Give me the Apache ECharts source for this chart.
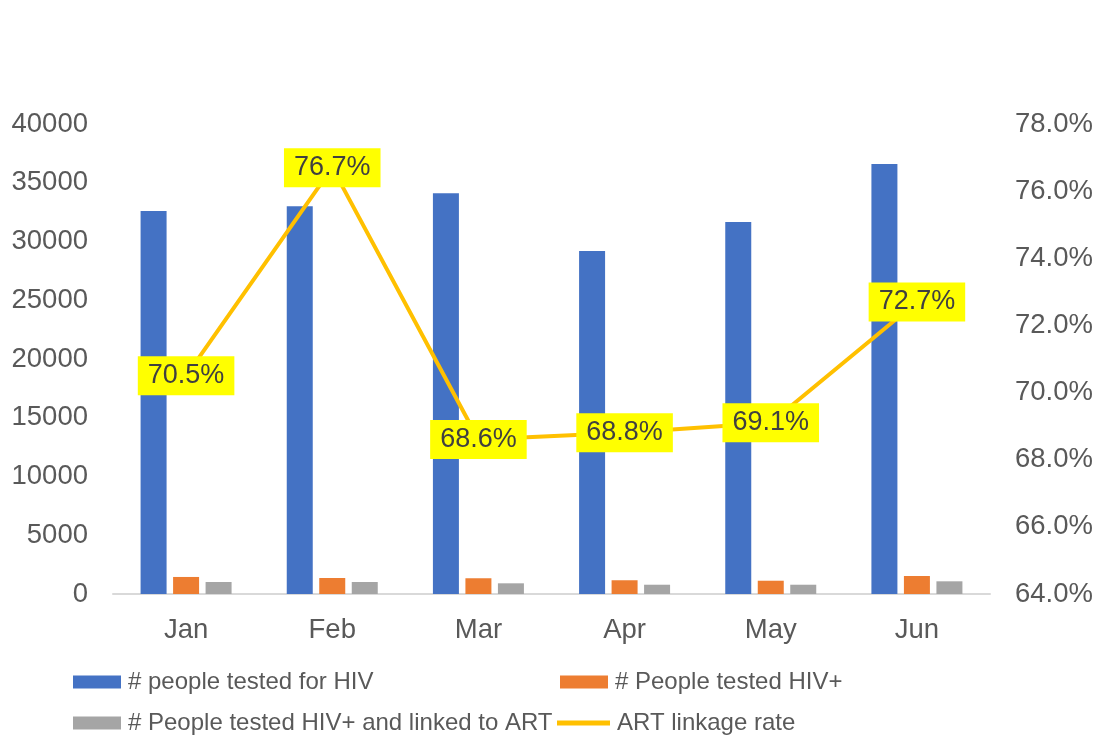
<!DOCTYPE html>
<html>
<head>
<meta charset="utf-8">
<script src="https://cdn.jsdelivr.net/npm/echarts@6/dist/echarts.min.js"></script>
<style>
  html, body { margin: 0; padding: 0; background: #fff; }
  #chart { width: 1104px; height: 738px; }
</style>
</head>
<body>
<div id="chart"></div>
<script>
// data
const months = ['Jan', 'Feb', 'Mar', 'Apr', 'May', 'Jun']
const testedHIV = [32600, 33000, 34100, 29200, 31650, 36600]
const testedPositive = [1450, 1360, 1340, 1170, 1130, 1530]
const linkedART = [1020, 1020, 910, 790, 790, 1080]
const linkageRate = [70.5, 76.7, 68.6, 68.8, 69.1, 72.7]

const names = [
  '# people tested for HIV',
  '# People tested HIV+',
  '# People tested HIV+ and linked to ART',
  'ART linkage rate',
]

const font = 'Liberation Sans, Arial, sans-serif'
const axisText = { color: '#595959', fontSize: 27.5, fontFamily: font }

// one legend per item so each sits where it does in the reference
function legendAt(name, left, top, line) {
  return {
    data: [{ name: name, icon: 'rect' }],
    left: left,
    top: top,
    padding: 0,
    itemWidth: line ? 53 : 48,
    itemHeight: line ? 5 : 13,
    itemGap: 0,
    selectedMode: false,
    textStyle: { color: '#595959', fontSize: 24, fontFamily: font, padding: [0, 0, 0, 2] },
  }
}

const chart = echarts.init(document.getElementById('chart'))
chart.setOption({
  animation: false,
  textStyle: { fontFamily: font },
  grid: { left: 113, right: 114, top: 124, bottom: 144 },
  legend: [
    legendAt(names[0], 73, 670, false),
    legendAt(names[1], 560, 670, false),
    legendAt(names[2], 73, 711, false),
    legendAt(names[3], 557, 711, true),
  ],
  xAxis: {
    type: 'category',
    data: months,
    axisTick: { show: false },
    axisLine: { lineStyle: { color: '#d9d9d9', width: 2 } },
    axisLabel: Object.assign({ margin: 22 }, axisText),
  },
  yAxis: [
    {
      type: 'value',
      min: 0,
      max: 40000,
      interval: 5000,
      splitLine: { show: false },
      axisLabel: Object.assign({ margin: 25, formatter: v => String(v) }, axisText),
    },
    {
      type: 'value',
      min: 64,
      max: 78,
      interval: 2,
      splitLine: { show: false },
      axisLabel: Object.assign({ margin: 25, formatter: v => v.toFixed(1) + '%' }, axisText),
    },
  ],
  series: [
    {
      name: names[0],
      type: 'bar',
      data: testedHIV,
      barWidth: 26,
      barGap: '25%',
      itemStyle: { color: '#4472C4' },
    },
    {
      name: names[1],
      type: 'bar',
      data: testedPositive,
      barWidth: 26,
      barGap: '25%',
      itemStyle: { color: '#ED7D31' },
    },
    {
      name: names[2],
      type: 'bar',
      data: linkedART,
      barWidth: 26,
      barGap: '25%',
      itemStyle: { color: '#A5A5A5' },
    },
    {
      name: names[3],
      type: 'line',
      yAxisIndex: 1,
      data: linkageRate,
      symbol: 'circle',
      symbolSize: 1,
      showSymbol: true,
      lineStyle: { color: '#FFC000', width: 4 },
      itemStyle: { color: '#FFC000' },
      label: {
        show: true,
        position: 'inside',
        formatter: p => p.value.toFixed(1) + '%',
        color: '#404040',
        fontSize: 27,
        fontFamily: font,
        backgroundColor: '#FFFF00',
        padding: [7, 10, 5, 10],
      },
      z: 5,
    },
  ],
})
</script>
</body>
</html>
